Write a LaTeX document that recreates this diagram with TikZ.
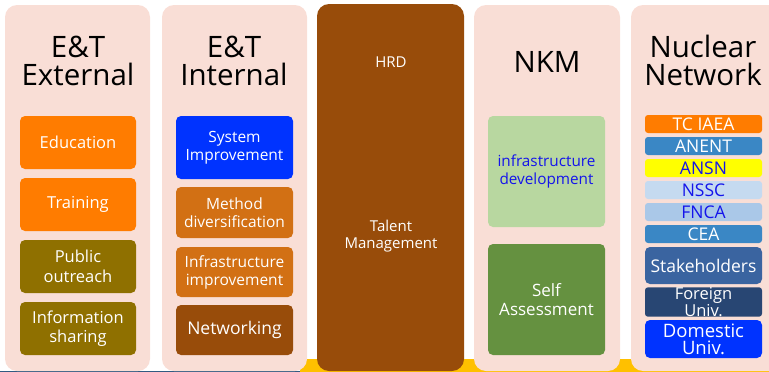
\documentclass[tikz,border=0pt]{standalone}
\usepackage{fontspec}
\setmainfont{Open Sans}
\definecolor{panelpink}{RGB}{249,222,214}
\definecolor{cOrange}{RGB}{255,124,0}
\definecolor{cOlive}{RGB}{143,112,0}
\definecolor{cBlue}{RGB}{0,51,255}
\definecolor{cOchre}{RGB}{210,112,20}
\definecolor{cBrown}{RGB}{152,76,10}
\definecolor{cLightGreen}{RGB}{184,215,160}
\definecolor{cGreen}{RGB}{101,145,64}
\definecolor{cSteel}{RGB}{58,135,197}
\definecolor{cYellow}{RGB}{255,255,0}
\definecolor{cPale}{RGB}{197,218,240}
\definecolor{cPale2}{RGB}{170,200,232}
\definecolor{cStake}{RGB}{58,100,160}
\definecolor{cNavy}{RGB}{40,70,115}
\definecolor{cTextBlue}{RGB}{20,20,235}
\definecolor{cBar}{RGB}{255,192,0}
\definecolor{cLine}{RGB}{50,90,130}
\begin{document}
\begin{tikzpicture}[x=1pt,y=-1pt,
  panel/.style={fill=panelpink,rounded corners=12pt},
  title/.style={font=\fontsize{29.5}{28}\selectfont,align=center,text=black,inner sep=0pt},
  bx/.style={rounded corners=5pt,inner sep=0pt,align=center,text=white,font=\fontsize{16.5}{19.5}\selectfont},
  sbx/.style={rounded corners=3pt,inner sep=0pt,align=center,text=white,font=\fontsize{17.5}{17}\selectfont,minimum width=117pt},
]
\useasboundingbox (0,0) rectangle (769,372);
\clip (0,0) rectangle (769,372);
% bottom bar and line
\fill[cBar] (300,359) rectangle (769,372);
\draw[cLine,line width=1pt] (0,371.5) -- (300,371.5);
% panels
\fill[panel] (5,5) rectangle (150,371);
\fill[panel] (162,5) rectangle (307,371);
\fill[cBrown,rounded corners=12pt] (317,4) rectangle (464,371);
\fill[panel] (474,5) rectangle (620,371);
\fill[panel] (631,5) rectangle (790,371);
% titles
\node[title] (t1) at (78,60.5) {E\&T\\External};
\node[title] (t2) at (234,60.5) {E\&T\\Internal};
\node[text=white,font=\fontsize{15}{15}\selectfont,inner sep=0pt] (t3) at (391,62) {HRD};
\node[title] (t4) at (547,62) {NKM};
\node[title] (t5) at (703,60.5) {Nuclear\\Network};
% panel 1
\node[bx,fill=cOrange,minimum width=116pt,minimum height=53pt] (edu) at (78,142.5) {Education};
\node[bx,fill=cOrange,minimum width=116pt,minimum height=53pt] (tra) at (78,204.5) {Training};
\node[bx,fill=cOlive,minimum width=116pt,minimum height=53pt] (pub) at (78,266.5) {Public\\outreach};
\node[bx,fill=cOlive,minimum width=116pt,minimum height=53pt] (inf) at (78,328.5) {Information\\sharing};
% panel 2
\node[bx,fill=cBlue,minimum width=117pt,minimum height=63pt,font=\fontsize{15.5}{18.5}\selectfont] (sys) at (234.5,147.5) {System\\Improvement};
\node[bx,fill=cOchre,minimum width=117pt,minimum height=51pt,font=\fontsize{15.5}{18}\selectfont] (met) at (234.5,212.5) {Method\\diversification};
\node[bx,fill=cOchre,minimum width=117pt,minimum height=50pt,font=\fontsize{15.5}{18}\selectfont] (ini) at (234.5,272) {Infrastructure\\improvement};
\node[bx,fill=cBrown,minimum width=117pt,minimum height=50pt,font=\fontsize{17.5}{20}\selectfont] (net) at (234.5,330) {Networking};
% HRD
\node[bx,font=\fontsize{15}{17}\selectfont] (tal) at (391,236) {Talent\\Management};
% NKM
\node[bx,fill=cLightGreen,text=cTextBlue,minimum width=117pt,minimum height=111pt,font=\fontsize{15.3}{17.5}\selectfont] (idv) at (546.5,171.5) {infrastructure\\development};
\node[bx,fill=cGreen,minimum width=117pt,minimum height=111pt,font=\fontsize{17}{19}\selectfont] (sel) at (546.5,299.5) {Self\\Assessment};
% Nuclear network
\node[sbx,fill=cOrange,minimum height=18pt] (tc) at (703.5,124) {TC IAEA};
\node[sbx,fill=cSteel,minimum height=18pt] (an) at (703.5,146) {ANENT};
\node[sbx,fill=cYellow,text=cTextBlue,minimum height=18pt] (ans) at (703.5,168) {ANSN};
\node[sbx,fill=cPale,text=cTextBlue,minimum height=18pt] (nss) at (703.5,190) {NSSC};
\node[sbx,fill=cPale2,text=cTextBlue,minimum height=18pt] (fnc) at (703.5,212) {FNCA};
\node[sbx,fill=cSteel,minimum height=18pt] (cea) at (703.5,234) {CEA};
\node[sbx,fill=cStake,minimum height=37pt,rounded corners=5pt] (stk) at (703.5,265.5) {Stakeholders};
\node[sbx,fill=cNavy,minimum height=26pt,font=\fontsize{16.5}{15}\selectfont] (for) at (703.5,302) {Foreign\\Univ.};
\node[sbx,fill=cBlue,minimum height=38pt,rounded corners=5pt,font=\fontsize{18.5}{17}\selectfont] (dom) at (703.5,339) {Domestic\\Univ.};
\end{tikzpicture}
\end{document}
